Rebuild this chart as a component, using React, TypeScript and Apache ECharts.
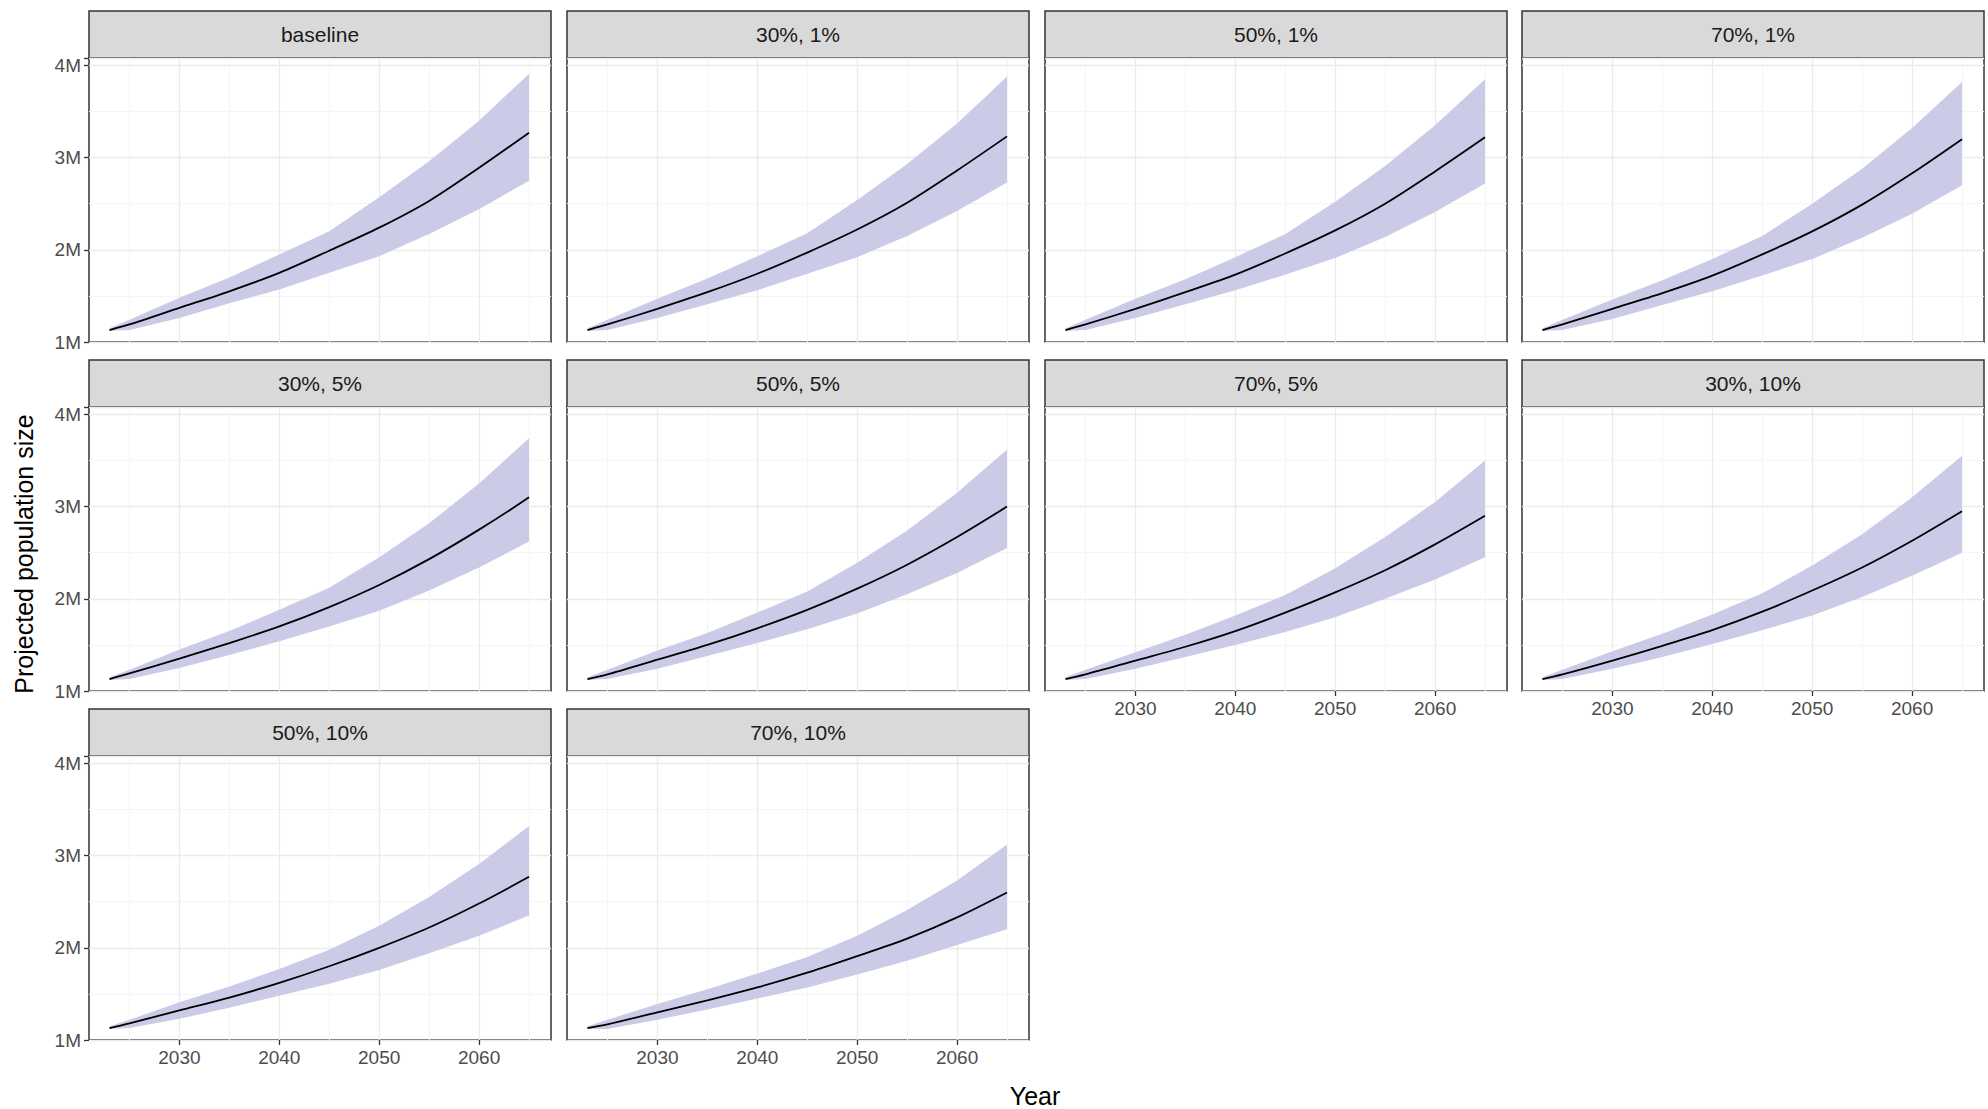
import React, { useEffect, useRef } from 'react';
import * as echarts from 'echarts';

const years = [2023, 2025, 2030, 2035, 2040, 2045, 2050, 2055, 2060, 2065];
const panelNames = ['baseline', '30%, 1%', '50%, 1%', '70%, 1%', '30%, 5%', '50%, 5%', '70%, 5%', '30%, 10%', '50%, 10%', '70%, 10%'];

const medianValues = [
  [1.13, 1.19, 1.37, 1.55, 1.75, 1.99, 2.24, 2.53, 2.89, 3.27],
  [1.13, 1.19, 1.36, 1.54, 1.74, 1.97, 2.22, 2.51, 2.86, 3.23],
  [1.13, 1.19, 1.36, 1.54, 1.73, 1.96, 2.21, 2.5, 2.85, 3.22],
  [1.13, 1.19, 1.36, 1.53, 1.72, 1.95, 2.2, 2.49, 2.83, 3.2],
  [1.13, 1.19, 1.35, 1.52, 1.7, 1.91, 2.15, 2.43, 2.75, 3.1],
  [1.13, 1.18, 1.34, 1.5, 1.68, 1.88, 2.11, 2.37, 2.67, 3.0],
  [1.13, 1.18, 1.33, 1.48, 1.65, 1.85, 2.07, 2.31, 2.59, 2.9],
  [1.13, 1.18, 1.33, 1.49, 1.66, 1.86, 2.09, 2.34, 2.63, 2.95],
  [1.13, 1.18, 1.32, 1.46, 1.62, 1.8, 2.0, 2.22, 2.48, 2.77],
  [1.13, 1.17, 1.3, 1.43, 1.57, 1.73, 1.91, 2.1, 2.33, 2.6],
];

const upperValues = [
  [1.15, 1.24, 1.48, 1.7, 1.95, 2.2, 2.57, 2.96, 3.4, 3.91],
  [1.15, 1.24, 1.47, 1.69, 1.93, 2.18, 2.54, 2.93, 3.37, 3.88],
  [1.15, 1.24, 1.47, 1.68, 1.92, 2.17, 2.52, 2.91, 3.35, 3.85],
  [1.15, 1.24, 1.46, 1.67, 1.9, 2.15, 2.5, 2.88, 3.32, 3.82],
  [1.15, 1.23, 1.45, 1.65, 1.88, 2.12, 2.45, 2.82, 3.25, 3.74],
  [1.15, 1.23, 1.44, 1.63, 1.85, 2.08, 2.39, 2.74, 3.15, 3.62],
  [1.15, 1.23, 1.42, 1.61, 1.82, 2.04, 2.33, 2.67, 3.05, 3.5],
  [1.15, 1.23, 1.43, 1.62, 1.83, 2.06, 2.36, 2.7, 3.1, 3.55],
  [1.15, 1.22, 1.41, 1.58, 1.77, 1.98, 2.24, 2.55, 2.91, 3.32],
  [1.15, 1.22, 1.39, 1.55, 1.72, 1.9, 2.13, 2.41, 2.73, 3.12],
];

const lowerValues = [
  [1.12, 1.13, 1.26, 1.42, 1.57, 1.75, 1.93, 2.17, 2.44, 2.75],
  [1.12, 1.13, 1.26, 1.41, 1.56, 1.74, 1.92, 2.15, 2.42, 2.73],
  [1.12, 1.13, 1.26, 1.41, 1.56, 1.73, 1.91, 2.14, 2.41, 2.72],
  [1.12, 1.13, 1.25, 1.4, 1.55, 1.72, 1.9, 2.13, 2.39, 2.7],
  [1.12, 1.13, 1.25, 1.39, 1.54, 1.7, 1.87, 2.09, 2.34, 2.62],
  [1.12, 1.13, 1.24, 1.38, 1.52, 1.67, 1.84, 2.05, 2.28, 2.55],
  [1.12, 1.13, 1.24, 1.37, 1.5, 1.64, 1.8, 2.0, 2.21, 2.45],
  [1.12, 1.13, 1.24, 1.37, 1.51, 1.66, 1.82, 2.02, 2.25, 2.5],
  [1.12, 1.13, 1.23, 1.35, 1.48, 1.61, 1.76, 1.94, 2.13, 2.35],
  [1.12, 1.12, 1.22, 1.33, 1.45, 1.57, 1.71, 1.86, 2.03, 2.2],
];

const xTickLabels = [2030, 2040, 2050, 2060];
const xGridMinor = [2025, 2035, 2045, 2055, 2065];

const colLeft = [89, 567, 1045, 1522];
const rowTop = [58, 407, 756];
const panelW = 462;
const panelH = 284;
const stripH = 47;
const font = 'Liberation Sans, Arial, sans-serif';

const App: React.FC = () => {
  const chartRef = useRef<HTMLDivElement>(null);

  useEffect(() => {
    document.body.style.margin = '0';
    if (!chartRef.current) return;
    const chart = echarts.init(chartRef.current, undefined, { renderer: 'svg' });

    const grids: any[] = [];
    const xAxes: any[] = [];
    const yAxes: any[] = [];
    const series: any[] = [];
    const graphics: any[] = [];

    panelNames.forEach((name, i) => {
      const row = Math.floor(i / 4);
      const col = i % 4;
      const left = colLeft[col];
      const top = rowTop[row];
      const showX = row === 2 || (row === 1 && col >= 2);
      const showY = col === 0;

      grids.push({ left, top, width: panelW, height: panelH, show: true, borderColor: '#333', borderWidth: 1.5, backgroundColor: '#fff' });
      xAxes.push({
        type: 'value', gridIndex: i, min: 2020.95, max: 2067.2,
        axisLine: { show: false }, splitLine: { show: false },
        axisTick: { show: showX, length: 5, lineStyle: { color: '#333', width: 1.3 }, customValues: xTickLabels },
        axisLabel: { show: showX, customValues: xTickLabels, formatter: (v: number) => String(v), color: '#4d4d4d', fontSize: 19, fontFamily: font, margin: 8 },
      });
      yAxes.push({
        type: 'value', gridIndex: i, min: 1, max: 4.08, interval: 1,
        axisLine: { show: false },
        axisTick: { show: showY, length: 5, lineStyle: { color: '#333', width: 1.3 } },
        axisLabel: { show: showY, formatter: (v: number) => (Number.isInteger(v) ? v + 'M' : ''), color: '#4d4d4d', fontSize: 19, fontFamily: font, margin: 8 },
        splitLine: { show: true, lineStyle: { color: '#ebebeb', width: 1.3 } },
        minorTick: { show: false, splitNumber: 2 },
        minorSplitLine: { show: true, lineStyle: { color: '#f5f5f5', width: 1 } },
      });

      const lower = lowerValues[i];
      const upper = upperValues[i];
      const bandData = years.map((y, k) => [y, lower[k], upper[k]]);
      series.push({
        type: 'custom', xAxisIndex: i, yAxisIndex: i, silent: true, z: 2,
        data: bandData,
        renderItem: (params: any, api: any) => {
          if (params.dataIndex !== 0) return null;
          const top = bandData.map((d) => api.coord([d[0], d[2]]));
          const bottom = bandData.map((d) => api.coord([d[0], d[1]])).reverse();
          return {
            type: 'polygon',
            shape: { points: top.concat(bottom) },
            style: { fill: '#cbcbe8' },
          };
        },
        markLine: {
          silent: true, symbol: 'none', label: { show: false }, z: 1,
          data: [
            ...xTickLabels.map((v) => ({ xAxis: v, lineStyle: { color: '#ebebeb', width: 1.3, type: 'solid' } })),
            ...xGridMinor.map((v) => ({ xAxis: v, lineStyle: { color: '#f5f5f5', width: 1, type: 'solid' } })),
          ],
        },
      });
      series.push({
        type: 'line', xAxisIndex: i, yAxisIndex: i, symbol: 'none', smooth: 0.3,
        data: years.map((y, k) => [y, medianValues[i][k]]),
        lineStyle: { color: '#000', width: 1.8 }, z: 5,
      });

      graphics.push({
        type: 'rect', shape: { x: left, y: top - stripH, width: panelW, height: stripH },
        style: { fill: '#d9d9d9', stroke: '#333', lineWidth: 1.5 },
      });
      graphics.push({
        type: 'text', x: left + panelW / 2, y: top - stripH / 2,
        style: { text: name, fill: '#1a1a1a', fontSize: 21, fontFamily: font, align: 'center', verticalAlign: 'middle' },
      });
    });

    graphics.push({
      type: 'text', x: 1035, y: 1096,
      style: { text: 'Year', fill: '#000', fontSize: 25, fontFamily: font, align: 'center', verticalAlign: 'middle' },
    });
    graphics.push({
      type: 'text', x: 24, y: 554, rotation: Math.PI / 2,
      style: { text: 'Projected population size', fill: '#000', fontSize: 25, fontFamily: font, align: 'center', verticalAlign: 'middle' },
    });

    chart.setOption({
      animation: false,
      grid: grids,
      xAxis: xAxes,
      yAxis: yAxes,
      series,
      graphic: graphics,
    });

    return () => chart.dispose();
  }, []);

  return <div ref={chartRef} style={{ width: 1988, height: 1109, background: '#fff' }} />;
};

export default App;
